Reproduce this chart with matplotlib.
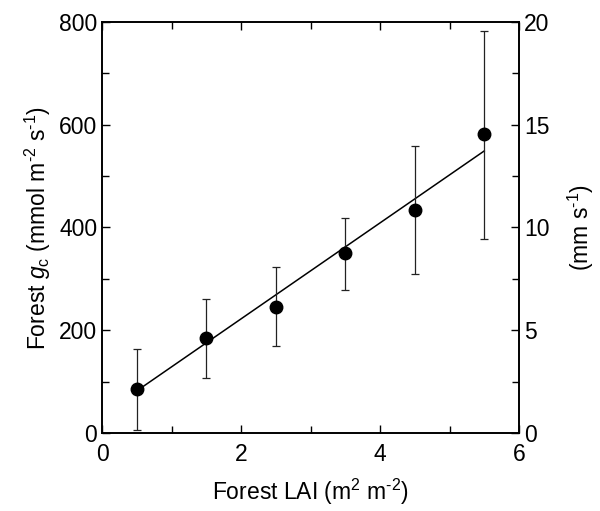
import numpy as np
import matplotlib
matplotlib.use("Agg")
import matplotlib.pyplot as plt
from matplotlib.ticker import MultipleLocator

plt.rcParams['font.family'] = ['Liberation Sans', 'DejaVu Sans']
plt.rcParams['mathtext.fontset'] = 'custom'
plt.rcParams['mathtext.rm'] = 'Liberation Sans'
plt.rcParams['mathtext.it'] = 'Liberation Sans:italic'

# data
lai = [0.5, 1.5, 2.5, 3.5, 4.5, 5.5]
gc_mean = [86, 184, 246, 350, 434, 581]
gc_low = [6, 108, 169, 278, 309, 377]
gc_high = [164, 261, 324, 418, 558, 783]
fit_x = [0.5, 5.5]
fit_y = [82, 549]

fig = plt.figure(figsize=(6, 5.11), dpi=100)
ax = fig.add_axes([0.17, 0.1526, 0.695, 0.8044])

yerr = [np.array(gc_mean) - np.array(gc_low), np.array(gc_high) - np.array(gc_mean)]
ax.errorbar(lai, gc_mean, yerr=yerr, fmt='o', color='black', ms=9,
            ecolor='#222222', elinewidth=0.9, capsize=3, capthick=0.9, zorder=3)
ax.plot(fit_x, fit_y, color='black', lw=1.1)

ax.set_xlim(0, 6)
ax.set_ylim(0, 800)
ax.xaxis.set_major_locator(MultipleLocator(2))
ax.xaxis.set_minor_locator(MultipleLocator(1))
ax.yaxis.set_major_locator(MultipleLocator(200))
ax.yaxis.set_minor_locator(MultipleLocator(100))
ax.tick_params(which='both', direction='in', labelsize=16.5, top=True, right=False)
ax.tick_params(which='major', length=6, width=1)
ax.tick_params(which='minor', length=5, width=1)
ax.tick_params(axis='x', pad=7)

hy = '\u2010'
ax.set_xlabel('Forest LAI (m$^2$ m$^{' + hy + '2}$)', fontsize=16.5, labelpad=8)
ax.set_ylabel('Forest $g_\\mathrm{c}$ (mmol m$^{' + hy + '2}$ s$^{' + hy + '1}$)',
              fontsize=16.5, labelpad=4)

ax2 = ax.twinx()
ax2.set_ylim(0, 20)
ax2.yaxis.set_major_locator(MultipleLocator(5))
ax2.yaxis.set_minor_locator(MultipleLocator(2.5))
ax2.tick_params(which='both', direction='in', labelsize=16.5)
ax2.tick_params(which='major', length=6, width=1)
ax2.tick_params(which='minor', length=5, width=1)
ax2.set_ylabel('(mm s$^{' + hy + '1}$)', fontsize=16.5, labelpad=12)

for a in (ax, ax2):
    for s in a.spines.values():
        s.set_linewidth(1.2)

fig.savefig('out.png', dpi=100)
